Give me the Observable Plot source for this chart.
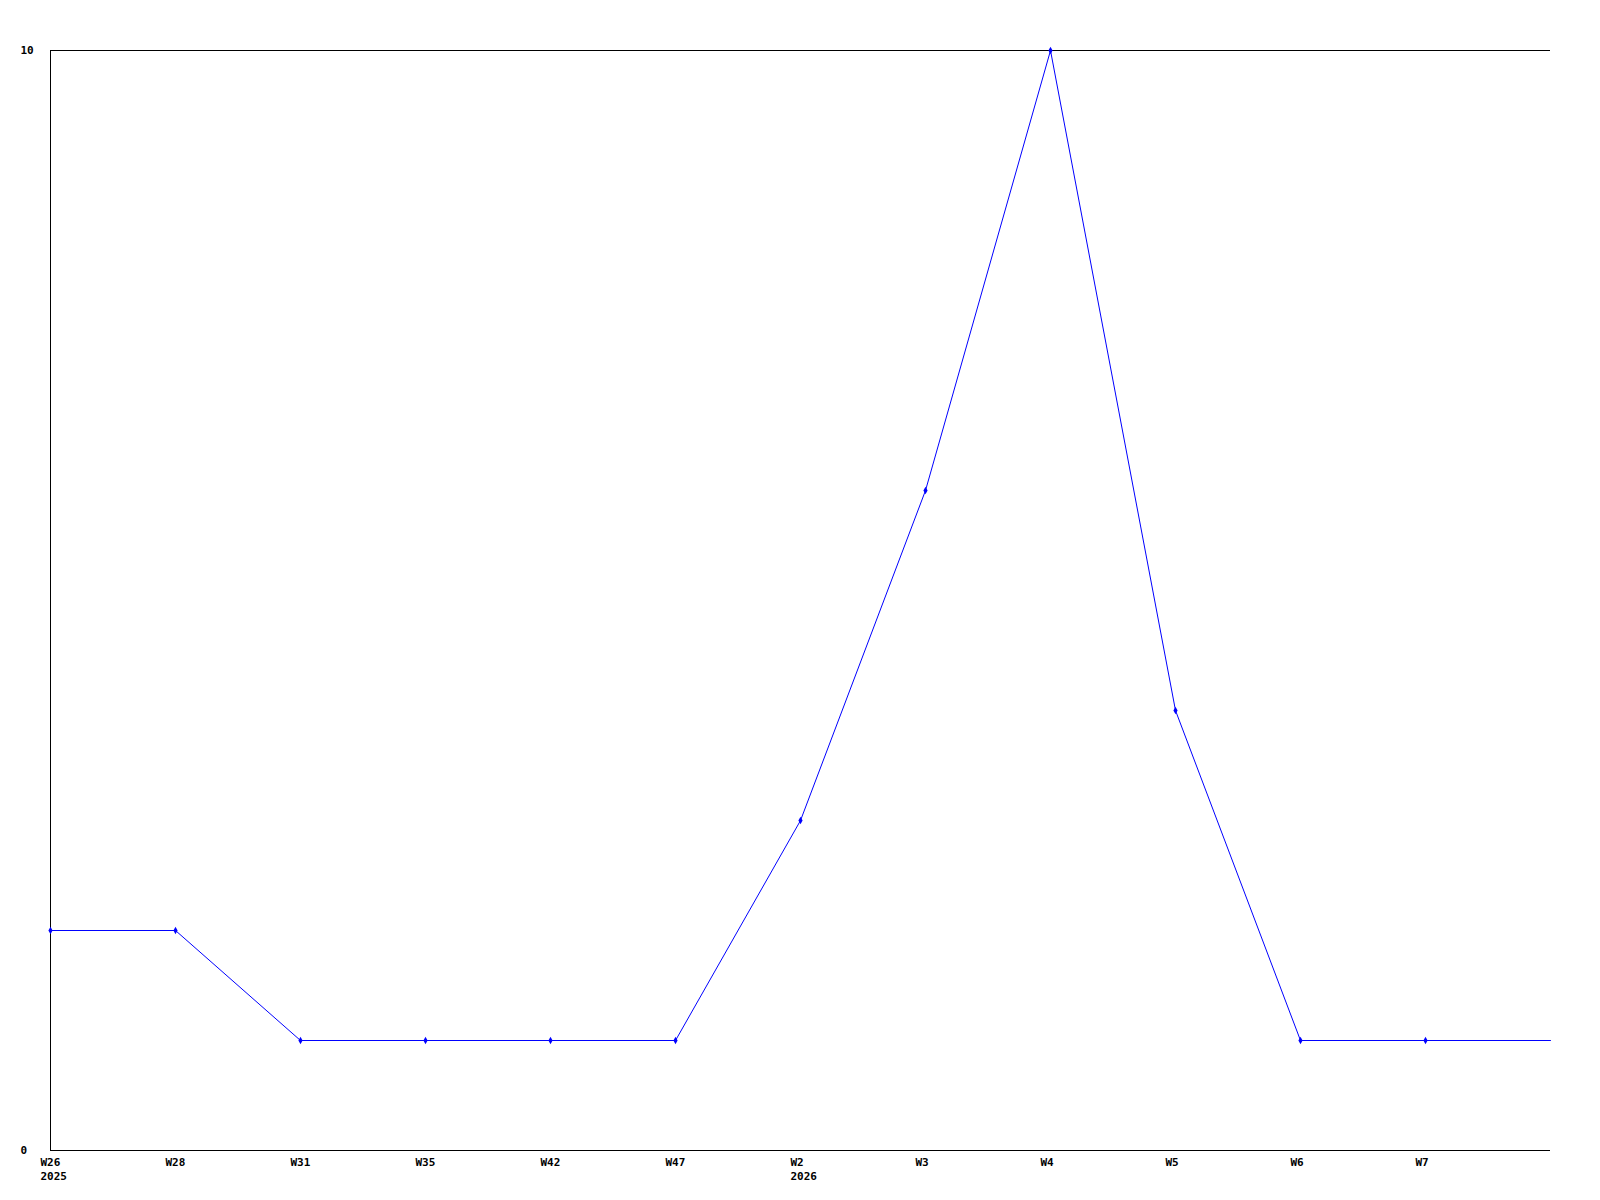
<!DOCTYPE html>
<html>
<head>
<meta charset="utf-8">
<script src="https://cdn.jsdelivr.net/npm/d3@7"></script>
<script src="https://cdn.jsdelivr.net/npm/@observablehq/plot@0.6"></script>
<style>
  html, body { margin: 0; padding: 0; background: #fff; }
  svg { display: block; }
</style>
</head>
<body>
<div id="chart"></div>
<script>
const weeks  = ["W26", "W28", "W31", "W35", "W42", "W47", "W2", "W3", "W4", "W5", "W6", "W7", ""];
const years  = ["2025", "", "", "", "", "", "2026", "", "", "", "", "", ""];
const values = [2, 2, 1, 1, 1, 1, 3, 6, 10, 4, 1, 1, 1];
const markerShown = [true, true, true, true, true, true, true, true, true, true, true, true, false];
const yTicks = [0, 10];

const data = weeks.map((w, i) => ({i, week: w, year: years[i], value: values[i], marker: markerShown[i]}));
const idx = data.map(d => d.i);
const font = "'DejaVu Sans Mono', 'Liberation Mono', monospace";

const chart = Plot.plot({
  width: 1600,
  height: 1200,
  marginLeft: 50,
  marginRight: 50,
  marginTop: 50,
  marginBottom: 50,
  style: {fontFamily: font, fontSize: "11px", fontWeight: "bold", background: "#fff", color: "#000"},
  x: {type: "point", domain: idx, padding: 0, axis: null},
  y: {domain: [0, 10], axis: null},
  marks: [
    Plot.ruleY([0, 10], {stroke: "#000", strokeWidth: 1}),
    Plot.ruleX([0], {y1: 0, y2: 10, stroke: "#000", strokeWidth: 1}),
    Plot.line(data, {x: "i", y: "value", stroke: "#0000ff", strokeWidth: 1}),
    Plot.dot(data.filter(d => d.marker), {x: "i", y: "value", symbol: "diamond", r: 2.2, fill: "#0000ff", stroke: "none"}),
    Plot.text(data, {x: "i", frameAnchor: "bottom", text: d => d.year ? d.week + "\n" + d.year : d.week, textAnchor: "start", lineAnchor: "top", dx: -10, dy: 6, lineHeight: 1.27, fill: "#000"}),
    Plot.text(yTicks, {y: d => d, frameAnchor: "left", text: d => String(d), textAnchor: "start", dx: -30, fill: "#000"})
  ]
});
document.getElementById("chart").appendChild(chart);
</script>
</body>
</html>
